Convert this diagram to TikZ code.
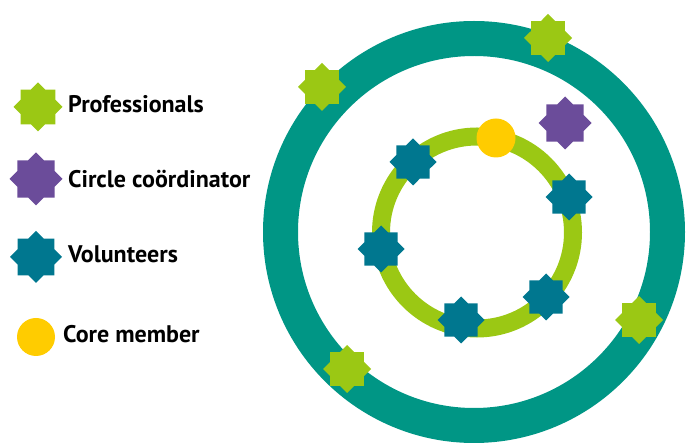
\documentclass[tikz,border=0pt]{standalone}
\usepackage{fontspec}
\setmainfont{PT Sans}
\usetikzlibrary{calc}
\definecolor{teal}{RGB}{0,150,133}
\definecolor{lime}{RGB}{155,200,20}
\definecolor{volblue}{RGB}{0,119,143}
\definecolor{coordpurple}{RGB}{107,76,154}
\definecolor{coreyellow}{RGB}{255,204,0}
\newcommand\eightstar[3]{%
  \fill[#3] ($(#1)+(90:#2)$)
    \foreach \k in {0,...,7}{ -- ($(#1)+(90+45*\k:#2)$) -- ($(#1)+(112.5+45*\k:0.7654*#2)$) } -- cycle;}
\tikzset{
  core/.style={circle, inner sep=0pt, minimum size=39pt, fill=coreyellow, draw=none},
  legtext/.style={anchor=base west, inner sep=0pt, font=\fontsize{24}{28}\selectfont\bfseries, text=black},
}
\begin{document}
\begin{tikzpicture}[x=1pt,y=-1pt]
\useasboundingbox (0,0) rectangle (686,443);
% rings
\draw[teal, line width=35pt] (474,232) circle[radius=193.5];
\draw[lime, line width=18pt] (477,232.5) circle[radius=96];
% professionals on outer ring
\coordinate (p1) at (322,87);  \eightstar{p1}{24}{lime}
\coordinate (p2) at (548,38);  \eightstar{p2}{24}{lime}
\coordinate (p3) at (639,320); \eightstar{p3}{24}{lime}
\coordinate (p4) at (347,369); \eightstar{p4}{24}{lime}
% coordinator
\coordinate (c1) at (565,123); \eightstar{c1}{26.5}{coordpurple}
% volunteers on inner ring
\coordinate (v1) at (413,162); \eightstar{v1}{23.5}{volblue}
\coordinate (v2) at (569,197); \eightstar{v2}{23.5}{volblue}
\coordinate (v3) at (381,249); \eightstar{v3}{23.5}{volblue}
\coordinate (v4) at (546,297); \eightstar{v4}{23.5}{volblue}
\coordinate (v5) at (461,320); \eightstar{v5}{23.5}{volblue}
% core member
\node[core] (m1) at (496,138) {};
% legend
\coordinate (lp) at (38,107); \eightstar{lp}{24.5}{lime}
\coordinate (lc) at (36,179); \eightstar{lc}{26.5}{coordpurple}
\coordinate (lv) at (36,257); \eightstar{lv}{26}{volblue}
\node[core, minimum size=38pt] (lm) at (36,337) {};
\node[legtext] (tp) at (68,113) {Professionals};
\node[legtext] (tc) at (68,188) {Circle coördinator};
\node[legtext] (tv) at (68,263) {Volunteers};
\node[legtext] (tm) at (63,343) {Core member};
\end{tikzpicture}
\end{document}
